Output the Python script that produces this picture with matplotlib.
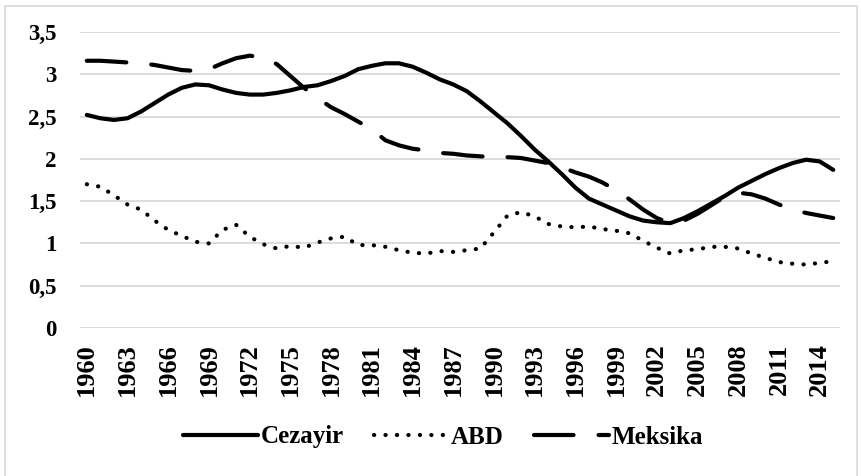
import matplotlib.pyplot as plt
from matplotlib.patches import Rectangle
import numpy as np

years = list(range(1960, 2016))

cezayir = [2.52, 2.48, 2.46, 2.48, 2.56, 2.66, 2.76, 2.84, 2.88, 2.87,
           2.82, 2.78, 2.76, 2.76, 2.78, 2.81, 2.85, 2.87, 2.92, 2.98,
           3.06, 3.10, 3.13, 3.13, 3.09, 3.02, 2.94, 2.88, 2.80, 2.68,
           2.55, 2.42, 2.27, 2.11, 1.97, 1.82, 1.66, 1.53, 1.46, 1.39,
           1.32, 1.27, 1.25, 1.24, 1.30, 1.38, 1.47, 1.56, 1.66, 1.74,
           1.82, 1.89, 1.95, 1.99, 1.97, 1.87]

abd = [1.70, 1.67, 1.57, 1.46, 1.40, 1.27, 1.16, 1.09, 1.02, 1.00,
       1.16, 1.22, 1.08, 0.99, 0.94, 0.97, 0.95, 1.01, 1.06, 1.08,
       0.98, 0.98, 0.96, 0.92, 0.89, 0.88, 0.91, 0.90, 0.92, 0.94,
       1.13, 1.33, 1.37, 1.32, 1.23, 1.20, 1.19, 1.20, 1.17, 1.15,
       1.12, 1.03, 0.95, 0.88, 0.92, 0.93, 0.96, 0.96, 0.94, 0.88,
       0.83, 0.78, 0.76, 0.75, 0.77, 0.79]

meksika = [3.16, 3.16, 3.15, 3.14, 3.13, 3.11, 3.08, 3.05, 3.04, 3.06,
           3.13, 3.19, 3.22, 3.20, 3.12, 2.98, 2.84, 2.72, 2.61, 2.53,
           2.44, 2.35, 2.22, 2.16, 2.12, 2.10, 2.07, 2.06, 2.04, 2.03,
           2.02, 2.02, 2.01, 1.98, 1.95, 1.90, 1.84, 1.79, 1.72, 1.63,
           1.52, 1.40, 1.30, 1.24, 1.27, 1.35, 1.45, 1.55, 1.60, 1.58,
           1.53, 1.46, 1.40, 1.36, 1.33, 1.30]

y_ticks = [0, 0.5, 1, 1.5, 2, 2.5, 3, 3.5]
y_labels = ['0', '0,5', '1', '1,5', '2', '2,5', '3', '3,5']

plt.rcParams['font.family'] = ['Liberation Serif', 'DejaVu Serif']
plt.rcParams['font.weight'] = 'bold'

W, H = 861, 476
fig = plt.figure(figsize=(W / 100, H / 100), dpi=100)
ax = fig.add_axes([80 / W, 1 - 328 / H, 760 / W, 296 / H])

x = np.arange(len(years))
ax.plot(x, cezayir, color='black', lw=3, solid_capstyle='round', label='Cezayir')
ax.plot(x, abd, color='black', lw=3, linestyle=(0, (0.05, 2.7)),
        dash_capstyle='round', label='ABD')
ax.plot(x, meksika, color='black', lw=3, linestyle=(0, (9.5, 6)),
        dash_capstyle='round', label='Meksika')

ax.set_xlim(-0.5, len(years) - 0.5)
ax.set_ylim(0, 3.5)
ax.set_yticks(y_ticks)
ax.set_yticklabels(y_labels, fontsize=16.5, fontweight='bold')
ax.set_xticks(x[::3])
ax.set_xticklabels([str(y) for y in years[::3]], rotation=90,
                   fontsize=19, fontweight='bold')
ax.tick_params(axis='both', length=0)
ax.tick_params(axis='y', pad=17)
ax.tick_params(axis='x', pad=11)
ax.grid(axis='y', color='#d9d9d9', lw=1.3)
ax.set_axisbelow(True)
for s in ax.spines.values():
    s.set_visible(False)

fig.legend(loc='center', bbox_to_anchor=(443 / W, 1 - 437 / H), ncol=3,
           frameon=False, prop={'size': 18, 'weight': 'bold'},
           handlelength=3.0, handletextpad=0.1, columnspacing=1.2)

fig.patches.append(Rectangle((5 / W, -0.1), 852 / W, 1.1 - 6 / H,
                             transform=fig.transFigure, fill=False,
                             edgecolor='#d9d9d9', lw=1.2))

fig.savefig('out.png', dpi=100)
